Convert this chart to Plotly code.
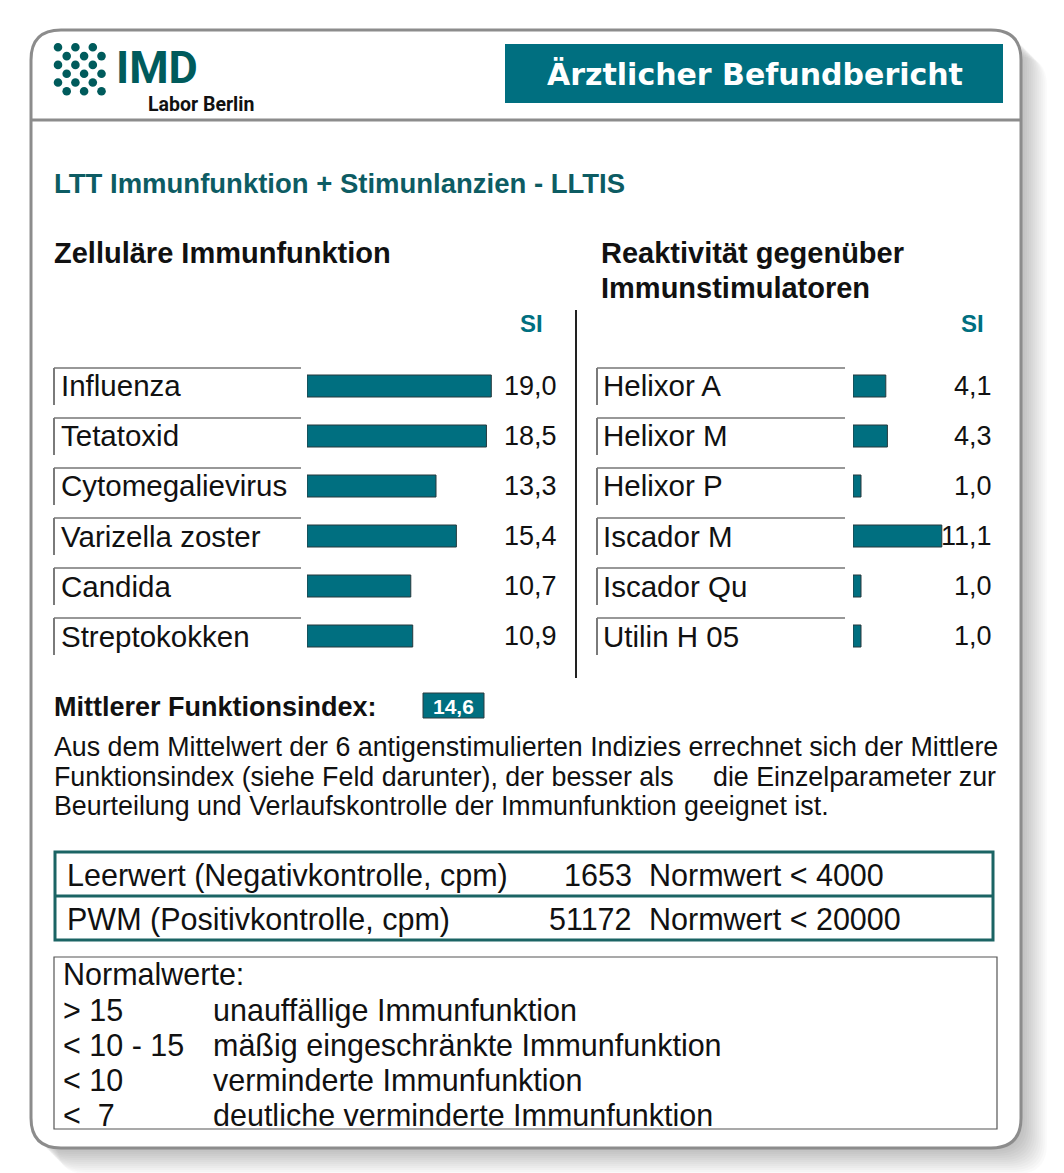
import plotly.graph_objects as go

W, H = 1064, 1173

# ---------------- data ----------------
header_title = "Ärztlicher Befundbericht"
logo_main = "IMD"
logo_sub = "Labor Berlin"
report_title = "LTT Immunfunktion + Stimunlanzien - LLTIS"
left_heading = "Zelluläre Immunfunktion"
right_heading = ["Reaktivität gegenüber", "Immunstimulatoren"]
si_label = "SI"

left_categories = ["Influenza", "Tetatoxid", "Cytomegalievirus", "Varizella zoster", "Candida", "Streptokokken"]
left_values = [19.0, 18.5, 13.3, 15.4, 10.7, 10.9]
right_categories = ["Helixor A", "Helixor M", "Helixor P", "Iscador M", "Iscador Qu", "Utilin H 05"]
right_values = [4.1, 4.3, 1.0, 11.1, 1.0, 1.0]

mean_label = "Mittlerer Funktionsindex:"
mean_value = 14.6

paragraph_line1 = "Aus dem Mittelwert der 6 antigenstimulierten Indizies errechnet sich der Mittlere"
paragraph_line2_left = "Funktionsindex (siehe Feld darunter), der besser als"
paragraph_line2_right = "die Einzelparameter zur"
paragraph_line3 = "Beurteilung und Verlaufskontrolle der Immunfunktion geeignet ist."

control_labels = ["Leerwert (Negativkontrolle, cpm)", "PWM (Positivkontrolle, cpm)"]
control_values = [1653, 51172]
control_norms = ["Normwert &lt; 4000", "Normwert &lt; 20000"]

normal_header = "Normalwerte:"
normal_ranges = ["&gt; 15", "&lt; 10 - 15", "&lt; 10", "&lt;\u00a0 7"]
normal_meanings = ["unauffällige Immunfunktion", "mäßig eingeschränkte Immunfunktion",
                   "verminderte Immunfunktion", "deutliche verminderte Immunfunktion"]

# ---------------- styles ----------------
TEAL = "#006f80"
DARK_TEAL = "#005b5c"
TITLE_TEAL = "#0d5c63"
TABLE_TEAL = "#1b6464"
GREY = "#8c8c8c"
TXT = "#111111"
SANS = "Liberation Sans, Arial, sans-serif"


def px(x):
    return x / W


def py(y):
    return 1 - y / H


def rrect_path(x0, y0, x1, y1, r):
    pts = [
        ("M", [(x0 + r, y0)]), ("L", [(x1 - r, y0)]), ("Q", [(x1, y0), (x1, y0 + r)]),
        ("L", [(x1, y1 - r)]), ("Q", [(x1, y1), (x1 - r, y1)]), ("L", [(x0 + r, y1)]),
        ("Q", [(x0, y1), (x0, y1 - r)]), ("L", [(x0, y0 + r)]), ("Q", [(x0, y0), (x0 + r, y0)]),
    ]
    s = ""
    for cmd, ps in pts:
        s += cmd + " " + " ".join(f"{px(a):.5f},{py(b):.5f}" for a, b in ps) + " "
    return s + "Z"


shapes = []
annotations = []


def text(x, y, t, size, color=TXT, family=SANS, anchor="left", bold=False, yref="paper"):
    f = dict(size=size, color=color, family=family)
    if bold:
        f["weight"] = "bold"
    annotations.append(dict(
        x=px(x), y=(py(y) if yref == "paper" else y), xref="paper", yref=yref,
        text=t, showarrow=False, xanchor=anchor, yanchor="middle", font=f,
    ))


def line(x0, y0, x1, y1, color, width, yref="paper"):
    shapes.append(dict(
        type="line", xref="paper", yref=yref,
        x0=px(x0), x1=px(x1),
        y0=(py(y0) if yref == "paper" else y0), y1=(py(y1) if yref == "paper" else y1),
        line=dict(color=color, width=width), layer="above",
    ))


def rect(x0, y0, x1, y1, fill, lcolor, lwidth, layer="below"):
    shapes.append(dict(
        type="rect", xref="paper", yref="paper",
        x0=px(x0), x1=px(x1), y0=py(y1), y1=py(y0),
        fillcolor=fill, line=dict(color=lcolor, width=lwidth), layer=layer,
    ))


# card shadow
CX0, CY0, CX1, CY1, CR = 31, 30, 1021, 1148, 30
for k in range(1, 14):
    off = 2 * k
    shapes.append(dict(type="path", xref="paper", yref="paper",
                       path=rrect_path(CX0 + off, CY0 + off, CX1 + off, CY1 + off, CR),
                       fillcolor="rgba(0,0,0,0.018)", line=dict(width=0), layer="below"))
# card
shapes.append(dict(type="path", xref="paper", yref="paper",
                   path=rrect_path(CX0, CY0, CX1, CY1, CR),
                   fillcolor="white", line=dict(color=GREY, width=3), layer="below"))
line(CX0, 120, CX1, 120, GREY, 3)

# logo dots
for row in range(6):
    cy = 47.3 + row * 8.8
    for col in range(3):
        cx = (58 if row % 2 == 0 else 66.7) + col * 17.4
        r = 4.3
        shapes.append(dict(type="circle", xref="paper", yref="paper",
                           x0=px(cx - r), x1=px(cx + r), y0=py(cy + r), y1=py(cy - r),
                           fillcolor=DARK_TEAL, line=dict(width=0), layer="below"))
text(114, 67.5, logo_main, 45, DARK_TEAL, "Roboto, sans-serif", bold=True)
text(146, 105, logo_sub, 19.5, "#111111", "Roboto, sans-serif", bold=True)

# header box
rect(505, 44, 1003, 103, TEAL, TEAL, 0)
text(755, 75, header_title, 30, "white", "DejaVu Sans, sans-serif", anchor="center", bold=True)

# report title
text(52, 183, report_title, 27.5, TITLE_TEAL, SANS, bold=True)

# section headings
text(52, 253, left_heading, 29, TXT, SANS, bold=True)
text(599, 253, right_heading[0], 29, TXT, SANS, bold=True)
text(599, 288, right_heading[1], 29, TXT, SANS, bold=True)
text(531, 323, si_label, 24, TEAL, SANS, anchor="center", bold=True)
text(972, 323, si_label, 24, TEAL, SANS, anchor="center", bold=True)

# divider
line(576, 310, 576, 678, "#222222", 2)


def fmt(v):
    return f"{v:.1f}".replace(".", ",")


# rows: labels, boxes, values
for i, (cat, val) in enumerate(zip(left_categories, left_values)):
    text(59, i, cat, 29.5, TXT, SANS, yref="y")
    text(559, i, fmt(val), 27, TXT, SANS, anchor="right", yref="y")
    line(54, i - 0.36, 301, i - 0.36, "#333333", 1.2, yref="y")
    line(54, i - 0.36, 54, i + 0.38, "#7a7a7a", 2, yref="y")
for i, (cat, val) in enumerate(zip(right_categories, right_values)):
    text(601, i, cat, 29.5, TXT, SANS, yref="y2")
    text(994, i, fmt(val), 27, TXT, SANS, anchor="right", yref="y2")
    line(597, i - 0.36, 845, i - 0.36, "#333333", 1.2, yref="y2")
    line(597, i - 0.36, 597, i + 0.38, "#7a7a7a", 2, yref="y2")

# mean index
text(52, 707, mean_label, 27, TXT, SANS, bold=True)
rect(423, 693, 484, 718, TEAL, "#2a3c40", 1, layer="above")
text(453.5, 706, fmt(mean_value), 21, "white", SANS, anchor="center", bold=True)

# paragraph
text(52, 747, paragraph_line1, 26.8, TXT, SANS)
text(52, 777, paragraph_line2_left, 26.8, TXT, SANS)
text(998, 777, paragraph_line2_right, 26.8, TXT, SANS, anchor="right")
text(52, 806, paragraph_line3, 26.8, TXT, SANS)

# controls table
rect(55, 852, 993, 940, "rgba(0,0,0,0)", TABLE_TEAL, 3, layer="above")
line(55, 896, 993, 896, TABLE_TEAL, 3)
for j, (lab, val, nrm) in enumerate(zip(control_labels, control_values, control_norms)):
    yy = 875 + j * 44
    text(65, yy, lab, 30.5, TXT, SANS)
    text(634, yy, str(val), 30.5, TXT, SANS, anchor="right")
    text(647, yy, nrm, 30.5, TXT, SANS)

# normal values box
rect(54, 957, 997, 1129, "rgba(0,0,0,0)", "#555555", 1.2, layer="above")
text(61, 974, normal_header, 30.5, TXT, SANS)
for j, (rng, mean) in enumerate(zip(normal_ranges, normal_meanings)):
    yy = 1010 + j * 35
    text(61, yy, rng, 30.5, TXT, SANS)
    text(211, yy, mean, 30.5, TXT, SANS)

# ---------------- figure ----------------
fig = go.Figure()
bar_style = dict(orientation="h", width=0.44, marker=dict(color=TEAL, line=dict(color="#26393d", width=1)),
                 hoverinfo="skip", showlegend=False)
fig.add_trace(go.Bar(x=left_values, y=left_categories, xaxis="x", yaxis="y", **bar_style))
fig.add_trace(go.Bar(x=right_values, y=right_categories, xaxis="x2", yaxis="y2", **bar_style))

ydom = [py(661), py(361)]
L_X0, L_PPU, L_R = 307, 9.7, 20
R_X0, R_PPU, R_R = 853, 8.0, 14

fig.update_layout(
    width=W, height=H, margin=dict(l=0, r=0, t=0, b=0),
    paper_bgcolor="white", plot_bgcolor="rgba(0,0,0,0)",
    font=dict(family=SANS, color=TXT),
    xaxis=dict(domain=[px(L_X0), px(L_X0 + L_PPU * L_R)], range=[0, L_R], visible=False, fixedrange=True, anchor="y"),
    yaxis=dict(domain=ydom, type="category", categoryarray=left_categories, range=[5.5, -0.5],
               visible=False, fixedrange=True, anchor="x"),
    xaxis2=dict(domain=[px(R_X0), px(R_X0 + R_PPU * R_R)], range=[0, R_R], visible=False, fixedrange=True, anchor="y2"),
    yaxis2=dict(domain=ydom, type="category", categoryarray=right_categories, range=[5.5, -0.5],
                visible=False, fixedrange=True, anchor="x2"),
    shapes=shapes, annotations=annotations, showlegend=False,
)

fig.write_html("out.html", config={"displayModeBar": False},
               post_script="document.body.style.margin='0px';")
